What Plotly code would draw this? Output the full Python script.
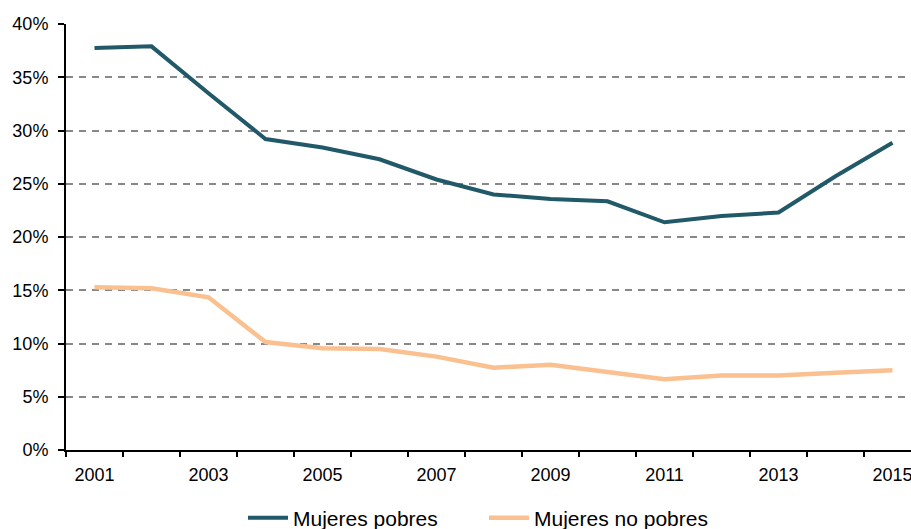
import plotly.graph_objects as go

years = list(range(2001, 2016))
mujeres_pobres = [37.75, 37.9, 33.5, 29.2, 28.4, 27.3, 25.4, 24.0, 23.57, 23.35, 21.38, 21.97, 22.3, 25.7, 28.85]
mujeres_no_pobres = [15.28, 15.18, 14.34, 10.14, 9.55, 9.48, 8.77, 7.73, 8.0, 7.3, 6.64, 7.0, 7.0, 7.26, 7.48]
x_tick_years = [2001, 2003, 2005, 2007, 2009, 2011, 2013, 2015]
y_ticks = [0, 5, 10, 15, 20, 25, 30, 35, 40]
y_tick_text = [f"{v}%" for v in y_ticks]

font_family = "Liberation Sans, Arial, sans-serif"

fig = go.Figure()
fig.add_trace(go.Scatter(x=years, y=mujeres_pobres, mode="lines", name="Mujeres pobres",
                         line=dict(color="#215968", width=4)))
fig.add_trace(go.Scatter(x=years, y=mujeres_no_pobres, mode="lines", name="Mujeres no pobres",
                         line=dict(color="#FAC090", width=4.5)))

fig.update_layout(
    width=911, height=529,
    margin=dict(l=66, r=0, t=24, b=79, autoexpand=False),
    paper_bgcolor="white", plot_bgcolor="white",
    font=dict(family=font_family, size=18, color="black"),
    showlegend=True,
    legend=dict(orientation="h", x=(243 - 66) / 845, xanchor="left",
                yref="container", y=11 / 529, yanchor="middle",
                font=dict(size=21), itemwidth=40, entrywidth=186, entrywidthmode="pixels"),
)
fig.update_xaxes(
    range=[2000.5, 2000.5 + 845 / 57],
    tickvals=x_tick_years, ticktext=[str(y) for y in x_tick_years],
    ticks="", showgrid=False, zeroline=False, automargin=False,
    ticklabeloverflow="allow",
    showline=True, linecolor="black", linewidth=2,
    ticklabelstandoff=7,
    minor=dict(ticks="outside", ticklen=5, tickwidth=2, tickcolor="black",
               tick0=2000.5, dtick=1, showgrid=False),
)
fig.update_yaxes(
    range=[0, 40], tickvals=y_ticks, ticktext=y_tick_text,
    ticks="outside", ticklen=6, tickwidth=2, tickcolor="black",
    showline=True, linecolor="black", linewidth=2, automargin=False,
    ticklabeloverflow="allow",
    showgrid=True, gridcolor="#888888", gridwidth=1.5, griddash="7px,6px",
    zeroline=False, ticklabelstandoff=6,
)

fig.write_html("out.html", config={"displayModeBar": False},
               post_script="document.body.style.margin='0';document.body.style.overflow='hidden';")
